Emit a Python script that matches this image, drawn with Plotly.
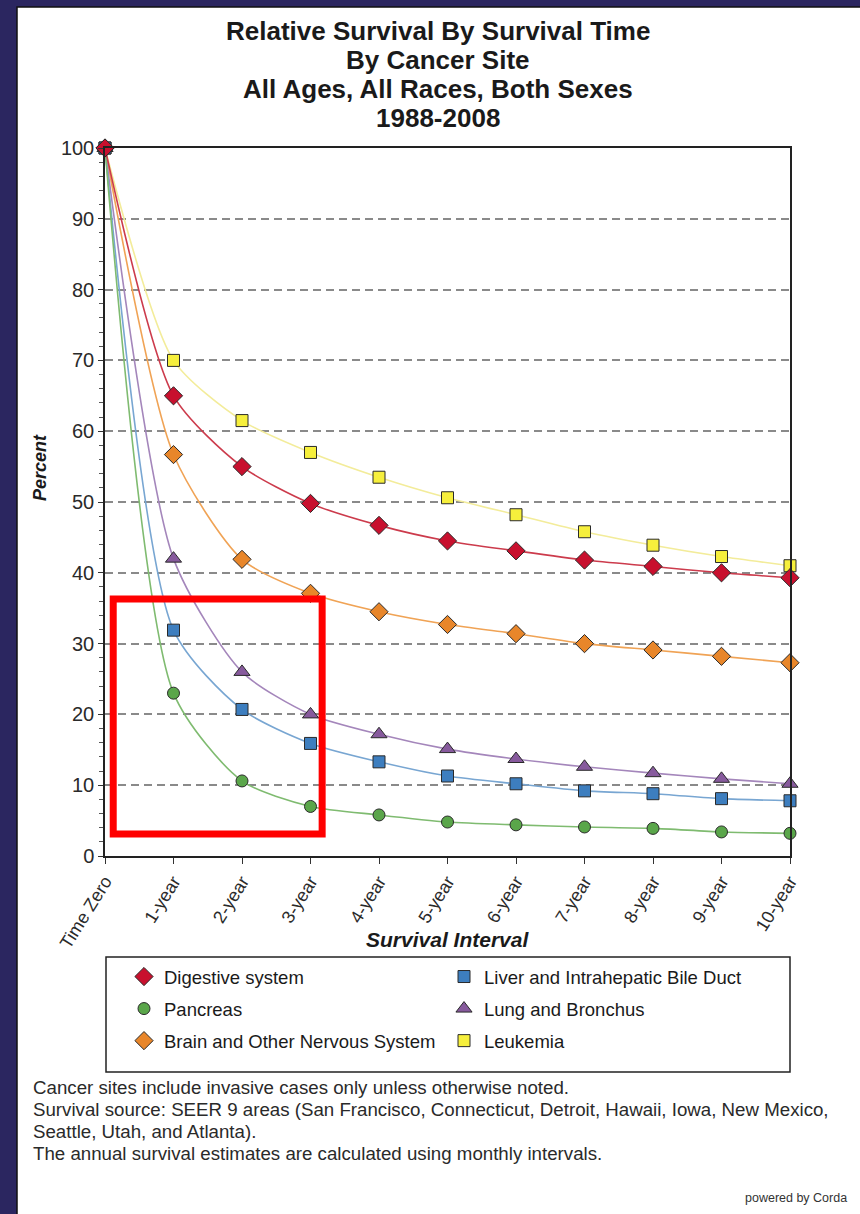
import plotly.graph_objects as go

# ---------------- data ----------------
intervals = ["Time Zero", "1-year", "2-year", "3-year", "4-year", "5-year",
             "6-year", "7-year", "8-year", "9-year", "10-year"]

digestive = [100, 65.0, 55.0, 49.8, 46.7, 44.5, 43.1, 41.8, 40.9, 40.0, 39.3]
pancreas  = [100, 23.0, 10.6, 7.0, 5.8, 4.8, 4.4, 4.1, 3.9, 3.4, 3.2]
brain     = [100, 56.7, 41.9, 37.1, 34.5, 32.7, 31.4, 30.0, 29.1, 28.2, 27.3]
liver     = [100, 31.9, 20.7, 15.9, 13.3, 11.3, 10.2, 9.2, 8.8, 8.1, 7.8]
lung      = [100, 42.0, 26.0, 20.0, 17.2, 15.1, 13.7, 12.6, 11.7, 10.9, 10.2]
leukemia  = [100, 70.0, 61.5, 57.0, 53.5, 50.6, 48.2, 45.8, 43.9, 42.3, 41.0]

series_names = ["Digestive system", "Liver and Intrahepatic Bile Duct", "Pancreas",
                "Lung and Bronchus", "Brain and Other Nervous System", "Leukemia"]

title_lines = ["Relative Survival By Survival Time", "By Cancer Site",
               "All Ages, All Races, Both Sexes", "1988-2008"]
footnotes = ["Cancer sites include invasive cases only unless otherwise noted.",
             "Survival source: SEER 9 areas (San Francisco, Connecticut, Detroit, Hawaii, Iowa, New Mexico,",
             "Seattle, Utah, and Atlanta).",
             "The annual survival estimates are calculated using monthly intervals."]

# ---------------- styles ----------------
FONT = "Arial, 'Liberation Sans', Helvetica, sans-serif"
styles = {
    "Digestive system": dict(values=digestive, symbol="diamond", mcolor="#c8102e", lcolor="#cc3b4c", size=14, legend="legend", rank=1),
    "Pancreas": dict(values=pancreas, symbol="circle", mcolor="#5aa64a", lcolor="#7fbb70", size=12, legend="legend", rank=2),
    "Brain and Other Nervous System": dict(values=brain, symbol="diamond", mcolor="#e8862a", lcolor="#f0a355", size=14, legend="legend", rank=3),
    "Liver and Intrahepatic Bile Duct": dict(values=liver, symbol="square", mcolor="#3d7ebf", lcolor="#78a6d2", size=12, legend="legend2", rank=4),
    "Lung and Bronchus": dict(values=lung, symbol="triangle-up", mcolor="#875a9d", lcolor="#a486bb", size=14, legend="legend2", rank=5),
    "Leukemia": dict(values=leukemia, symbol="square", mcolor="#f6ef3c", lcolor="#f3ec9a", size=12, legend="legend2", rank=6),
}
draw_order = ["Leukemia", "Brain and Other Nervous System", "Lung and Bronchus",
              "Liver and Intrahepatic Bile Duct", "Pancreas", "Digestive system"]

fig = go.Figure()

# lines
for name in draw_order:
    s = styles[name]
    fig.add_trace(go.Scatter(
        x=intervals, y=s["values"], mode="lines", name=name, showlegend=False,
        line=dict(color=s["lcolor"], width=1.6, shape="spline", smoothing=0.7),
        hoverinfo="skip", cliponaxis=False))

# markers (carry the legend entries)
for name in draw_order:
    s = styles[name]
    fig.add_trace(go.Scatter(
        x=intervals, y=s["values"], mode="markers", name=name,
        legend=s["legend"], legendrank=s["rank"], legendgroup=name,
        marker=dict(symbol=s["symbol"], size=s["size"], color=s["mcolor"],
                    line=dict(color="#2a2a2a", width=1)),
        cliponaxis=False))

# ---------------- layout geometry ----------------
W, H = 860, 1214
L, R, T, B = 105, 70, 148, 358
pw, ph = W - L - R, H - T - B


def px(x):
    return (x - L) / pw


def py(y):
    return (H - B - y) / ph


shapes = [
    # white panel with black border on left/top
    dict(type="rect", xref="paper", yref="paper", layer="below",
         x0=px(17), x1=px(W + 10), y0=py(H + 10), y1=py(7),
         fillcolor="white", line=dict(color="#111", width=1.5)),
    # legend frame
    dict(type="rect", xref="paper", yref="paper",
         x0=px(106), x1=px(790), y0=py(1072), y1=py(957),
         fillcolor="rgba(0,0,0,0)", line=dict(color="#222", width=1.5)),
    # red highlight box
    dict(type="rect", xref="x", yref="y", x0=0.12, x1=3.17, y0=3.1, y1=36.3,
         line=dict(color="#ff0000", width=7), fillcolor="rgba(0,0,0,0)"),
]

annotations = []
# title
title_y = [31, 60, 89, 118]
for txt, yy in zip(title_lines, title_y):
    annotations.append(dict(text=f"<b>{txt}</b>", x=px(438), y=py(yy), xref="paper", yref="paper",
                            xanchor="center", yanchor="middle", showarrow=False,
                            font=dict(family=FONT, size=26, color="#1a1a1a")))
# axis titles
annotations.append(dict(text="<b><i>Survival Interval</i></b>", x=px(447), y=py(940),
                        xref="paper", yref="paper", xanchor="center", yanchor="middle",
                        showarrow=False, font=dict(family=FONT, size=21, color="#1a1a1a")))
annotations.append(dict(text="<b><i>Percent</i></b>", x=px(40), y=py(468), textangle=-90,
                        xref="paper", yref="paper", xanchor="center", yanchor="middle",
                        showarrow=False, font=dict(family=FONT, size=18, color="#1a1a1a")))
# footnotes
for txt, yy in zip(footnotes, [1087, 1109, 1131, 1153]):
    annotations.append(dict(text=txt, x=px(31), y=py(yy), xref="paper", yref="paper",
                            xanchor="left", yanchor="middle", showarrow=False,
                            font=dict(family=FONT, size=18.7, color="#2a2a2a")))
annotations.append(dict(text="powered by Corda", x=px(849), y=py(1198), xref="paper", yref="paper",
                        xanchor="right", yanchor="middle", showarrow=False,
                        font=dict(family=FONT, size=12.5, color="#333")))

legend_common = dict(orientation="v", xanchor="left", yanchor="top", bgcolor="rgba(0,0,0,0)",
                     borderwidth=0, font=dict(family=FONT, size=18.5, color="#1a1a1a"),
                     tracegroupgap=5, itemclick=False, itemdoubleclick=False)

fig.update_layout(
    width=W, height=H,
    margin=dict(l=L, r=R, t=T, b=B, autoexpand=False),
    paper_bgcolor="#2b2660", plot_bgcolor="white",
    font=dict(family=FONT, color="#2a2a2a"),
    showlegend=True,
    legend=dict(x=px(124), y=py(958), **legend_common),
    legend2=dict(x=px(444), y=py(958), **legend_common),
    shapes=shapes, annotations=annotations,
    xaxis=dict(type="category", range=[0, len(intervals) - 1], showgrid=False,
               showline=True, linecolor="#222", linewidth=1.5, mirror=True,
               ticks="outside", ticklen=6, tickcolor="#333", tickangle=-58,
               tickfont=dict(family=FONT, size=18, color="#2a2a2a"), zeroline=False),
    yaxis=dict(range=[0, 100], dtick=10, showgrid=True, gridcolor="#8a8a8a", gridwidth=1.5,
               griddash="8px,5px", showline=True, linecolor="#222", linewidth=1.5, mirror=True,
               ticks="outside", ticklen=5, tickcolor="#333", zeroline=False,
               minor=dict(dtick=2, ticks="outside", ticklen=4, tickcolor="#555", showgrid=False),
               tickfont=dict(family=FONT, size=20, color="#2a2a2a")),
)

fig.write_html("out.html", config={"displayModeBar": False},
               post_script="document.body.style.margin='0px';document.body.style.overflow='hidden';")
